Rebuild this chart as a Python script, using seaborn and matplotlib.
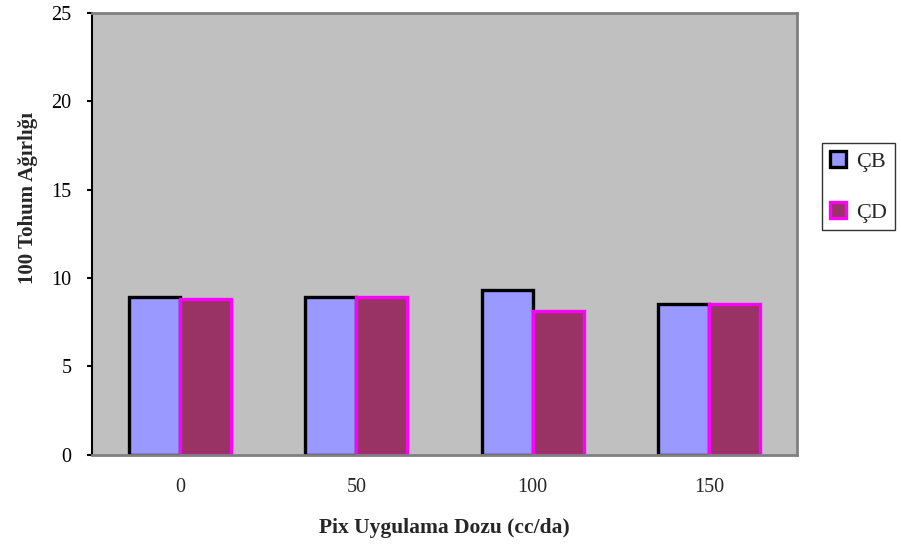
import matplotlib
matplotlib.use("Agg")
import matplotlib.pyplot as plt
import seaborn as sns
import pandas as pd
from matplotlib.patches import Patch

doses = ["0", "50", "100", "150"]
cb_values = [8.9, 8.9, 9.3, 8.5]
cd_values = [8.8, 8.9, 8.1, 8.5]
series = ["ÇB", "ÇD"]
fill_colors = {"ÇB": "#9999FF", "ÇD": "#993366"}
edge_colors = {"ÇB": "#000000", "ÇD": "#FF00FF"}

df = pd.DataFrame({
    "dose": doses * 2,
    "value": cb_values + cd_values,
    "series": ["ÇB"] * 4 + ["ÇD"] * 4,
})

sns.set_style("white")
plt.rcParams["font.family"] = ["Liberation Serif", "DejaVu Serif"]

fig = plt.figure(figsize=(9.01, 5.45), dpi=100)
ax = fig.add_axes([92 / 901, 1 - 454.5 / 545, (797 - 92) / 901, (454.5 - 13) / 545])

sns.barplot(data=df, x="dose", y="value", hue="series", order=doses,
            hue_order=series, palette=fill_colors, width=0.58, ax=ax,
            legend=False, saturation=1)

for container, s in zip(ax.containers, series):
    for bar in container:
        bar.set_edgecolor(edge_colors[s])
        bar.set_linewidth(2.4)

ax.set_facecolor("#C0C0C0")
ax.set_ylim(0, 25)
ax.set_xlim(-0.5, 3.5)
ax.set_yticks([0, 5, 10, 15, 20, 25])
ax.tick_params(axis="y", direction="out", length=3.8, width=1.5, colors="black",
               labelsize=14.5, pad=10.8, left=True)
ax.tick_params(axis="x", length=0, labelsize=14.5, pad=17)
for sp in ["top", "right", "bottom"]:
    ax.spines[sp].set_color("#808080")
    ax.spines[sp].set_linewidth(2)
ax.spines["left"].set_color("black")
ax.spines["left"].set_linewidth(1.5)

ax.set_xlabel("Pix Uygulama Dozu (cc/da)", fontsize=15.5, fontweight="bold", labelpad=15)
ax.set_ylabel("100 Tohum Ağırlığı", fontsize=15, fontweight="bold", labelpad=10, y=0.58)

handles = [Patch(facecolor=fill_colors[s], edgecolor=edge_colors[s], linewidth=2.4, label=s)
           for s in series]
leg = fig.legend(handles=handles, loc="upper left", bbox_to_anchor=(822 / 901, 1 - 143 / 545),
                 frameon=True, fancybox=False, fontsize=16, handlelength=0.75,
                 handleheight=0.75, handletextpad=0.45, labelspacing=1.35,
                 borderpad=0.35, borderaxespad=0, edgecolor="black")
leg.get_frame().set_linewidth(1)

fig.savefig("out.png", dpi=100)
